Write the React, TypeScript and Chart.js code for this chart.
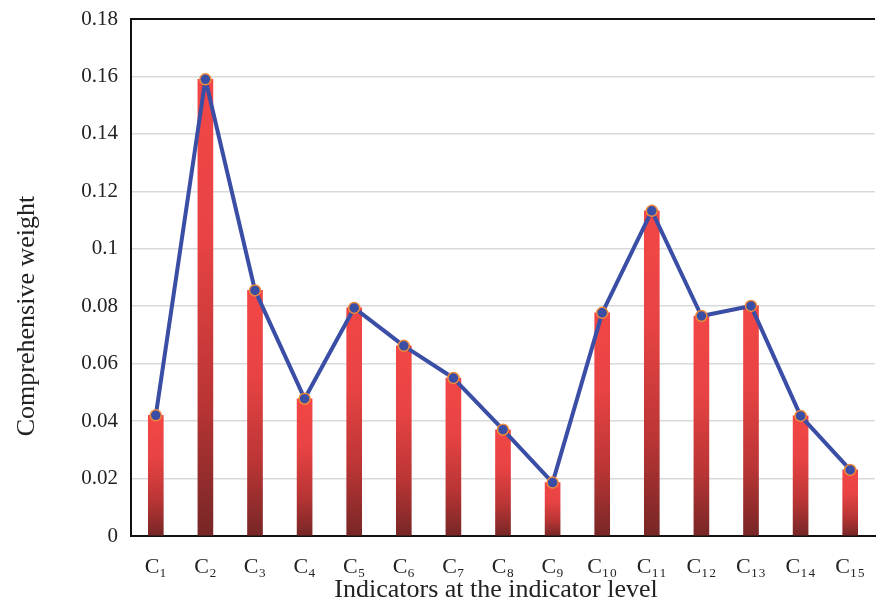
import React, { useEffect, useRef } from "react";
import { Chart, registerables } from "chart.js";

Chart.register(...registerables);

const categories = ["C₁", "C₂", "C₃", "C₄", "C₅", "C₆", "C₇", "C₈", "C₉", "C₁₀", "C₁₁", "C₁₂", "C₁₃", "C₁₄", "C₁₅"];
const weights = [0.042, 0.159, 0.0855, 0.0478, 0.0794, 0.0662, 0.055, 0.037, 0.0186, 0.0777, 0.1132, 0.0766, 0.0801, 0.0418, 0.023];
const yTicks = [0, 0.02, 0.04, 0.06, 0.08, 0.1, 0.12, 0.14, 0.16, 0.18];
const xTitle = "Indicators at the indicator level";
const yTitle = "Comprehensive weight";

const FONT = '"Liberation Serif", "Times New Roman", serif';

const framePlugin = {
  id: "frameAndTitles",
  afterDraw(chart: any) {
    const { ctx, chartArea } = chart;
    ctx.save();
    ctx.strokeStyle = "#111";
    ctx.lineWidth = 2;
    ctx.beginPath();
    ctx.moveTo(chartArea.left, chartArea.top);
    ctx.lineTo(chartArea.right, chartArea.top);
    ctx.stroke();
    ctx.fillStyle = "#222";
    ctx.font = `26px ${FONT}`;
    ctx.textAlign = "center";
    ctx.textBaseline = "middle";
    ctx.fillText(xTitle, 496, 590);
    ctx.translate(27, 316);
    ctx.rotate(-Math.PI / 2);
    ctx.fillText(yTitle, 0, 0);
    ctx.restore();
  },
};

export default function App() {
  const ref = useRef<HTMLCanvasElement>(null);
  useEffect(() => {
    if (!ref.current) return;
    const barColor = (c: any) => {
      const chart = c.chart;
      const ys = chart.scales && chart.scales.y;
      if (!ys || c.type !== "data" || c.raw == null) return "#e84242";
      const top = ys.getPixelForValue(c.raw);
      const bottom = ys.getPixelForValue(0);
      if (!isFinite(top) || !isFinite(bottom) || bottom - top < 1) return "#e84242";
      const g = chart.ctx.createLinearGradient(0, top, 0, bottom);
      g.addColorStop(0, "#f24646");
      g.addColorStop(0.35, "#e84343");
      g.addColorStop(0.7, "#bb3535");
      g.addColorStop(1, "#772626");
      return g;
    };
    const chart = new Chart(ref.current, {
      type: "bar",
      data: {
        labels: categories,
        datasets: [
          {
            type: "line",
            data: weights,
            borderColor: "#3b4ea5",
            borderWidth: 4,
            borderJoinStyle: "round",
            pointBackgroundColor: "#3b4ea5",
            pointBorderColor: "#f08a3a",
            pointBorderWidth: 1.5,
            pointRadius: 5.5,
            tension: 0,
            order: 0,
          } as any,
          {
            type: "bar",
            data: weights,
            backgroundColor: barColor,
            barThickness: 15,
            order: 1,
          },
        ],
      },
      options: {
        responsive: false,
        animation: false,
        devicePixelRatio: 1,
        layout: { padding: { top: 19, right: 0, left: 0, bottom: 0 } },
        plugins: { legend: { display: false }, tooltip: { enabled: false } },
        scales: {
          x: {
            offset: true,
            grid: { display: false, drawTicks: false },
            border: { display: true, color: "#111", width: 2 },
            ticks: {
              color: "#222",
              font: { family: FONT, size: 22 },
              padding: 18,
              maxRotation: 0,
              autoSkip: false,
            },
            afterFit: (s: any) => {
              s.height = 70;
              s.paddingLeft = 0;
              s.paddingRight = 0;
            },
          },
          y: {
            min: 0,
            max: 0.18,
            afterBuildTicks: (s: any) => {
              s.ticks = yTicks.map((v) => ({ value: v }));
            },
            grid: { color: "#d9d9d9", lineWidth: 1.5, drawTicks: false },
            border: { display: true, color: "#111", width: 2 },
            ticks: {
              color: "#222",
              font: { family: FONT, size: 21 },
              padding: 13,
              callback: (v: any) => String(Number(Number(v).toFixed(2))),
            },
            afterFit: (s: any) => {
              s.width = 131;
              s.paddingTop = 0;
              s.paddingBottom = 0;
            },
          },
        },
      },
      plugins: [framePlugin],
    });
    return () => chart.destroy();
  }, []);
  return (
    <div style={{ position: "fixed", left: 0, top: 0, width: 876, height: 606, overflow: "hidden", background: "#fff" }}>
      <canvas ref={ref} width={882} height={606} style={{ display: "block", width: 882, height: 606 }} />
    </div>
  );
}
